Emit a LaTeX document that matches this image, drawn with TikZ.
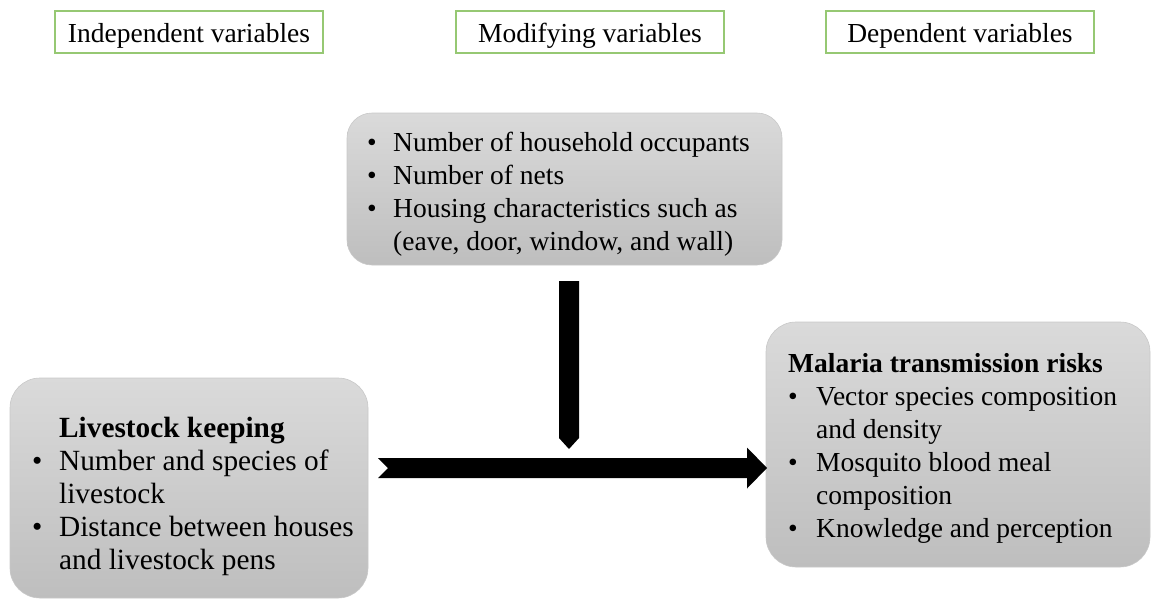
\documentclass[tikz,border=0pt]{standalone}
\usepackage{fontspec}
\setmainfont{Liberation Serif}
\usepackage{array}
\usetikzlibrary{calc}
\definecolor{hdrgreen}{RGB}{150,200,115}
\definecolor{boxtop}{RGB}{218,218,218}
\definecolor{boxbot}{RGB}{190,190,190}
\definecolor{boxline}{RGB}{200,200,200}
\tikzset{
  hdr/.style={draw=hdrgreen, line width=1.3pt},
  hdrtext/.style={anchor=base, inner sep=0pt, font=\fontsize{27.5}{32}\selectfont},
  graybox/.style={draw=boxline, line width=0.6pt, top color=boxtop, bottom color=boxbot, shading angle=0},
  boxtext/.style={anchor=base west, inner sep=0pt, align=left},
  bigarrow/.style={fill=black, draw=none},
}
\newcommand{\bl}{\textbullet}
\begin{document}
\begin{tikzpicture}[x=1pt,y=-1pt]
\useasboundingbox (0,0) rectangle (1152,600);
% header boxes
\draw[hdr] (55,11) rectangle (323,53);
\node[hdrtext] (hind) at (189,42.5) {Independent variables};
\draw[hdr] (456,11) rectangle (724,53);
\node[hdrtext] (hmod) at (590,42.5) {Modifying variables};
\draw[hdr] (826,11) rectangle (1094,53);
\node[hdrtext] (hdep) at (960,42.5) {Dependent variables};
% gray boxes
\draw[graybox, rounded corners=25pt] (347,113) rectangle (782,265);
\draw[graybox, rounded corners=30pt] (10,378) rectangle (368,598);
\draw[graybox, rounded corners=30pt] (766,322) rectangle (1150,567);
% middle text
\node[boxtext, font=\fontsize{27.5}{33}\selectfont] (mid) at (367,151) {%
\begin{tabular}[t]{@{}p{26pt}@{}l@{}}
\bl & Number of household occupants\\
\bl & Number of nets\\
\bl & Housing characteristics such as\\
    & (eave, door, window, and wall)
\end{tabular}};
% left text
\node[boxtext, font=\fontsize{29.3}{33}\selectfont] (left) at (32,437) {%
\begin{tabular}[t]{@{}p{27pt}@{}l@{}}
 & \textbf{Livestock keeping}\\
\bl & Number and species of\\
    & livestock\\
\bl & Distance between houses\\
    & and livestock pens
\end{tabular}};
% right text
\node[boxtext, font=\fontsize{27.5}{33}\selectfont] (right) at (788,372) {%
\begin{tabular}[t]{@{}p{28pt}@{}l@{}}
\multicolumn{2}{@{}l@{}}{\textbf{Malaria transmission risks}}\\
\bl & Vector species composition\\
    & and density\\
\bl & Mosquito blood meal\\
    & composition\\
\bl & Knowledge and perception
\end{tabular}};
% arrows
\coordinate (vtop) at (569,281);
\coordinate (vtip) at (569,449);
\coordinate (htail) at (378,468);
\coordinate (htip) at (767,468);
\fill[bigarrow] ($(vtop)+(-10,0)$) -- ($(vtop)+(10,0)$) -- ($(vtip)+(10,-11)$) -- (vtip) -- ($(vtip)+(-10,-11)$) -- cycle;
\fill[bigarrow] ($(htail)+(0,-10)$) -- ($(htip)+(-20,-10)$) -- ($(htip)+(-20,-20.5)$) -- (htip) -- ($(htip)+(-20,20.5)$) -- ($(htip)+(-20,10)$) -- ($(htail)+(0,10)$) -- ($(htail)+(10,0)$) -- cycle;
\end{tikzpicture}
\end{document}
